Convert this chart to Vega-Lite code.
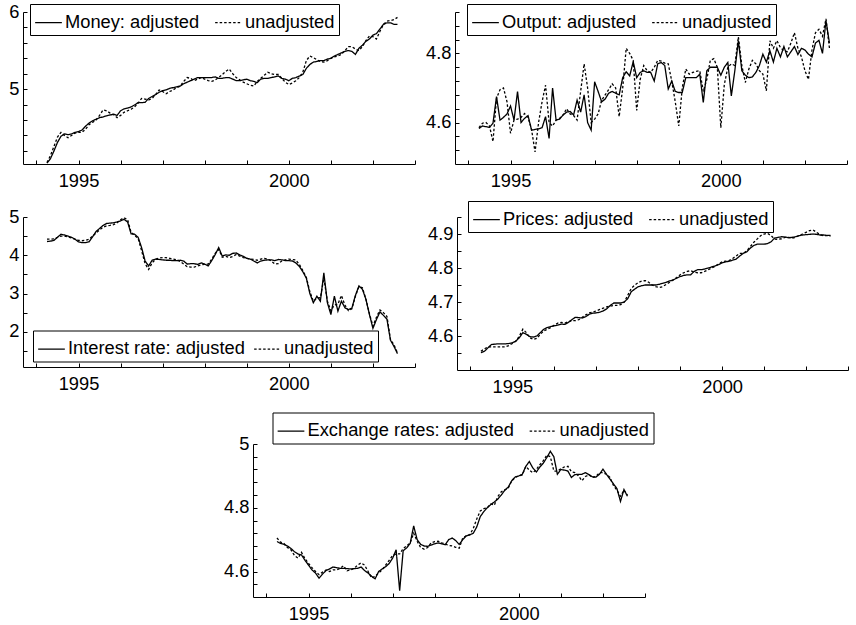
{
  "$schema": "https://vega.github.io/schema/vega-lite/v6.json",
  "padding": {"left": 8, "top": 2, "right": 2, "bottom": 2},
  "config": {
    "view": {"stroke": null},
    "font": "Liberation Sans",
    "axis": {"grid": false, "domainColor": "black", "domainWidth": 1, "tickColor": "black", "tickWidth": 1, "tickSize": -4, "labelColor": "black", "labelFont": "Liberation Sans", "labelFontSize": 18.3, "labelFlush": false, "labelOverlap": false, "labelBound": false},
    "axisX": {"labelPadding": 12.5},
    "axisY": {"labelPadding": 8},
    "legend": {"strokeColor": "black", "strokeWidth": 1, "fillColor": "white", "padding": 4, "labelFont": "Liberation Sans", "labelFontSize": 18.3, "labelColor": "black", "labelOffset": 2, "labelLimit": 0, "symbolType": "stroke", "symbolStrokeColor": "black", "symbolStrokeWidth": 1.2, "symbolSize": 713, "columnPadding": 12, "direction": "horizontal", "title": null},
    "line": {"color": "black", "strokeWidth": 1.3, "clip": true}
  },
  "data": {"values": [
    {"t":1994.25,"Ma":4.04,"Mu":4.05,"Oa":4.583,"Ou":4.585,"Ia":4.36,"Iu":4.42,"Pa":4.551,"Pu":4.555,"Ea":4.694,"Eu":4.705},
    {"t":1994.333,"Ma":4.10,"Mu":4.14,"Oa":4.59,"Ou":4.598,"Ia":4.37,"Iu":4.42,"Pa":4.555,"Pu":4.562,"Ea":4.688,"Eu":4.692},
    {"t":1994.417,"Ma":4.20,"Mu":4.26,"Oa":4.588,"Ou":4.60,"Ia":4.39,"Iu":4.43,"Pa":4.565,"Pu":4.568,"Ea":4.685,"Eu":4.688},
    {"t":1994.5,"Ma":4.31,"Mu":4.38,"Oa":4.586,"Ou":4.59,"Ia":4.47,"Iu":4.47,"Pa":4.575,"Pu":4.568,"Ea":4.68,"Eu":4.675},
    {"t":1994.583,"Ma":4.39,"Mu":4.44,"Oa":4.598,"Ou":4.545,"Ia":4.55,"Iu":4.50,"Pa":4.576,"Pu":4.568,"Ea":4.672,"Eu":4.668},
    {"t":1994.667,"Ma":4.42,"Mu":4.40,"Oa":4.675,"Ou":4.67,"Ia":4.53,"Iu":4.50,"Pa":4.577,"Pu":4.568,"Ea":4.662,"Eu":4.65},
    {"t":1994.75,"Ma":4.41,"Mu":4.37,"Oa":4.607,"Ou":4.695,"Ia":4.50,"Iu":4.48,"Pa":4.577,"Pu":4.568,"Ea":4.655,"Eu":4.642},
    {"t":1994.833,"Ma":4.42,"Mu":4.40,"Oa":4.615,"Ou":4.70,"Ia":4.47,"Iu":4.45,"Pa":4.577,"Pu":4.568,"Ea":4.652,"Eu":4.66},
    {"t":1994.917,"Ma":4.44,"Mu":4.43,"Oa":4.625,"Ou":4.66,"Ia":4.42,"Iu":4.42,"Pa":4.578,"Pu":4.572,"Ea":4.635,"Eu":4.64},
    {"t":1995.0,"Ma":4.45,"Mu":4.44,"Oa":4.648,"Ou":4.569,"Ia":4.35,"Iu":4.39,"Pa":4.58,"Pu":4.578,"Ea":4.62,"Eu":4.625},
    {"t":1995.083,"Ma":4.47,"Mu":4.44,"Oa":4.607,"Ou":4.607,"Ia":4.33,"Iu":4.38,"Pa":4.585,"Pu":4.585,"Ea":4.605,"Eu":4.612},
    {"t":1995.167,"Ma":4.52,"Mu":4.48,"Oa":4.69,"Ou":4.61,"Ia":4.33,"Iu":4.39,"Pa":4.595,"Pu":4.60,"Ea":4.595,"Eu":4.60},
    {"t":1995.25,"Ma":4.56,"Mu":4.54,"Oa":4.60,"Ou":4.615,"Ia":4.35,"Iu":4.42,"Pa":4.61,"Pu":4.62,"Ea":4.579,"Eu":4.59},
    {"t":1995.333,"Ma":4.59,"Mu":4.57,"Oa":4.612,"Ou":4.626,"Ia":4.48,"Iu":4.50,"Pa":4.605,"Pu":4.61,"Ea":4.592,"Eu":4.598},
    {"t":1995.417,"Ma":4.61,"Mu":4.60,"Oa":4.62,"Ou":4.615,"Ia":4.62,"Iu":4.58,"Pa":4.598,"Pu":4.595,"Ea":4.603,"Eu":4.605},
    {"t":1995.5,"Ma":4.63,"Mu":4.66,"Oa":4.578,"Ou":4.58,"Ia":4.70,"Iu":4.66,"Pa":4.597,"Pu":4.59,"Ea":4.608,"Eu":4.60},
    {"t":1995.583,"Ma":4.64,"Mu":4.73,"Oa":4.58,"Ou":4.515,"Ia":4.78,"Iu":4.73,"Pa":4.60,"Pu":4.593,"Ea":4.614,"Eu":4.605},
    {"t":1995.667,"Ma":4.655,"Mu":4.72,"Oa":4.582,"Ou":4.60,"Ia":4.83,"Iu":4.77,"Pa":4.61,"Pu":4.605,"Ea":4.612,"Eu":4.605},
    {"t":1995.75,"Ma":4.665,"Mu":4.69,"Oa":4.585,"Ou":4.66,"Ia":4.84,"Iu":4.78,"Pa":4.62,"Pu":4.615,"Ea":4.61,"Eu":4.61},
    {"t":1995.833,"Ma":4.675,"Mu":4.67,"Oa":4.617,"Ou":4.708,"Ia":4.85,"Iu":4.80,"Pa":4.625,"Pu":4.62,"Ea":4.61,"Eu":4.618},
    {"t":1995.917,"Ma":4.66,"Mu":4.63,"Oa":4.554,"Ou":4.60,"Ia":4.87,"Iu":4.85,"Pa":4.628,"Pu":4.625,"Ea":4.609,"Eu":4.602},
    {"t":1996.0,"Ma":4.72,"Mu":4.66,"Oa":4.70,"Ou":4.59,"Ia":4.90,"Iu":4.93,"Pa":4.63,"Pu":4.632,"Ea":4.608,"Eu":4.605},
    {"t":1996.083,"Ma":4.745,"Mu":4.70,"Oa":4.607,"Ou":4.607,"Ia":4.94,"Iu":4.98,"Pa":4.632,"Pu":4.638,"Ea":4.609,"Eu":4.61},
    {"t":1996.167,"Ma":4.755,"Mu":4.72,"Oa":4.61,"Ou":4.612,"Ia":4.87,"Iu":4.93,"Pa":4.635,"Pu":4.64,"Ea":4.61,"Eu":4.62},
    {"t":1996.25,"Ma":4.77,"Mu":4.74,"Oa":4.622,"Ou":4.622,"Ia":4.56,"Iu":4.60,"Pa":4.634,"Pu":4.638,"Ea":4.614,"Eu":4.627},
    {"t":1996.333,"Ma":4.795,"Mu":4.77,"Oa":4.63,"Ou":4.64,"Ia":4.55,"Iu":4.52,"Pa":4.64,"Pu":4.642,"Ea":4.603,"Eu":4.62},
    {"t":1996.417,"Ma":4.825,"Mu":4.82,"Oa":4.632,"Ou":4.625,"Ia":4.47,"Iu":4.44,"Pa":4.648,"Pu":4.645,"Ea":4.595,"Eu":4.60},
    {"t":1996.5,"Ma":4.825,"Mu":4.88,"Oa":4.622,"Ou":4.62,"Ia":4.20,"Iu":4.12,"Pa":4.655,"Pu":4.645,"Ea":4.585,"Eu":4.58},
    {"t":1996.583,"Ma":4.83,"Mu":4.87,"Oa":4.665,"Ou":4.607,"Ia":3.85,"Iu":3.78,"Pa":4.654,"Pu":4.648,"Ea":4.577,"Eu":4.585},
    {"t":1996.667,"Ma":4.88,"Mu":4.86,"Oa":4.63,"Ou":4.69,"Ia":3.72,"Iu":3.63,"Pa":4.653,"Pu":4.655,"Ea":4.60,"Eu":4.595},
    {"t":1996.75,"Ma":4.905,"Mu":4.88,"Oa":4.68,"Ou":4.77,"Ia":3.87,"Iu":3.80,"Pa":4.657,"Pu":4.662,"Ea":4.608,"Eu":4.605},
    {"t":1996.833,"Ma":4.93,"Mu":4.93,"Oa":4.60,"Ou":4.70,"Ia":3.90,"Iu":3.90,"Pa":4.664,"Pu":4.668,"Ea":4.615,"Eu":4.62},
    {"t":1996.917,"Ma":4.96,"Mu":4.99,"Oa":4.578,"Ou":4.60,"Ia":3.89,"Iu":3.93,"Pa":4.667,"Pu":4.67,"Ea":4.625,"Eu":4.635},
    {"t":1997.0,"Ma":4.98,"Mu":4.97,"Oa":4.718,"Ou":4.61,"Ia":3.88,"Iu":3.94,"Pa":4.668,"Pu":4.674,"Ea":4.642,"Eu":4.65},
    {"t":1997.083,"Ma":4.99,"Mu":4.94,"Oa":4.69,"Ou":4.625,"Ia":3.87,"Iu":3.94,"Pa":4.67,"Pu":4.678,"Ea":4.668,"Eu":4.655},
    {"t":1997.167,"Ma":5.01,"Mu":4.97,"Oa":4.66,"Ou":4.665,"Ia":3.87,"Iu":3.92,"Pa":4.674,"Pu":4.682,"Ea":4.54,"Eu":4.655},
    {"t":1997.25,"Ma":5.02,"Mu":4.99,"Oa":4.668,"Ou":4.68,"Ia":3.86,"Iu":3.90,"Pa":4.68,"Pu":4.686,"Ea":4.665,"Eu":4.672},
    {"t":1997.333,"Ma":5.03,"Mu":5.02,"Oa":4.685,"Ou":4.695,"Ia":3.86,"Iu":3.88,"Pa":4.69,"Pu":4.688,"Ea":4.674,"Eu":4.68},
    {"t":1997.417,"Ma":5.04,"Mu":5.04,"Oa":4.69,"Ou":4.712,"Ia":3.87,"Iu":3.84,"Pa":4.697,"Pu":4.69,"Ea":4.688,"Eu":4.69},
    {"t":1997.5,"Ma":5.07,"Mu":5.10,"Oa":4.685,"Ou":4.70,"Ia":3.85,"Iu":3.77,"Pa":4.697,"Pu":4.69,"Ea":4.743,"Eu":4.72},
    {"t":1997.583,"Ma":5.09,"Mu":5.15,"Oa":4.68,"Ou":4.617,"Ia":3.77,"Iu":3.70,"Pa":4.697,"Pu":4.692,"Ea":4.70,"Eu":4.695},
    {"t":1997.667,"Ma":5.11,"Mu":5.14,"Oa":4.73,"Ou":4.70,"Ia":3.78,"Iu":3.69,"Pa":4.70,"Pu":4.70,"Ea":4.685,"Eu":4.675},
    {"t":1997.75,"Ma":5.13,"Mu":5.11,"Oa":4.747,"Ou":4.815,"Ia":3.78,"Iu":3.69,"Pa":4.71,"Pu":4.72,"Ea":4.68,"Eu":4.67},
    {"t":1997.833,"Ma":5.15,"Mu":5.13,"Oa":4.735,"Ou":4.80,"Ia":3.76,"Iu":3.72,"Pa":4.73,"Pu":4.74,"Ea":4.679,"Eu":4.675},
    {"t":1997.917,"Ma":5.15,"Mu":5.15,"Oa":4.776,"Ou":4.78,"Ia":3.80,"Iu":3.75,"Pa":4.738,"Pu":4.75,"Ea":4.683,"Eu":4.69},
    {"t":1998.0,"Ma":5.15,"Mu":5.13,"Oa":4.73,"Ou":4.635,"Ia":3.77,"Iu":3.76,"Pa":4.745,"Pu":4.757,"Ea":4.687,"Eu":4.694},
    {"t":1998.083,"Ma":5.15,"Mu":5.11,"Oa":4.745,"Ou":4.725,"Ia":3.72,"Iu":3.77,"Pa":4.748,"Pu":4.762,"Ea":4.69,"Eu":4.695},
    {"t":1998.167,"Ma":5.15,"Mu":5.10,"Oa":4.75,"Ou":4.765,"Ia":3.86,"Iu":3.90,"Pa":4.75,"Pu":4.763,"Ea":4.687,"Eu":4.69},
    {"t":1998.25,"Ma":5.16,"Mu":5.12,"Oa":4.745,"Ou":4.75,"Ia":4.02,"Iu":4.05,"Pa":4.75,"Pu":4.758,"Ea":4.684,"Eu":4.686},
    {"t":1998.333,"Ma":5.14,"Mu":5.15,"Oa":4.745,"Ou":4.745,"Ia":4.20,"Iu":4.15,"Pa":4.75,"Pu":4.75,"Ea":4.70,"Eu":4.682},
    {"t":1998.417,"Ma":5.14,"Mu":5.19,"Oa":4.72,"Ou":4.76,"Ia":3.98,"Iu":3.95,"Pa":4.75,"Pu":4.745,"Ea":4.705,"Eu":4.68},
    {"t":1998.5,"Ma":5.15,"Mu":5.23,"Oa":4.77,"Ou":4.78,"Ia":4.01,"Iu":3.97,"Pa":4.752,"Pu":4.743,"Ea":4.697,"Eu":4.676},
    {"t":1998.583,"Ma":5.15,"Mu":5.26,"Oa":4.774,"Ou":4.778,"Ia":4.00,"Iu":3.94,"Pa":4.755,"Pu":4.745,"Ea":4.685,"Eu":4.673},
    {"t":1998.667,"Ma":5.13,"Mu":5.20,"Oa":4.765,"Ou":4.772,"Ia":4.05,"Iu":3.97,"Pa":4.758,"Pu":4.752,"Ea":4.70,"Eu":4.705},
    {"t":1998.75,"Ma":5.11,"Mu":5.15,"Oa":4.697,"Ou":4.77,"Ia":4.06,"Iu":4.02,"Pa":4.762,"Pu":4.758,"Ea":4.712,"Eu":4.712},
    {"t":1998.833,"Ma":5.11,"Mu":5.12,"Oa":4.72,"Ou":4.72,"Ia":4.01,"Iu":3.98,"Pa":4.765,"Pu":4.765,"Ea":4.715,"Eu":4.715},
    {"t":1998.917,"Ma":5.12,"Mu":5.09,"Oa":4.69,"Ou":4.66,"Ia":3.97,"Iu":3.94,"Pa":4.77,"Pu":4.772,"Ea":4.72,"Eu":4.735},
    {"t":1999.0,"Ma":5.13,"Mu":5.07,"Oa":4.687,"Ou":4.59,"Ia":3.92,"Iu":3.92,"Pa":4.775,"Pu":4.78,"Ea":4.74,"Eu":4.765},
    {"t":1999.083,"Ma":5.11,"Mu":5.05,"Oa":4.687,"Ou":4.70,"Ia":3.90,"Iu":3.90,"Pa":4.778,"Pu":4.786,"Ea":4.772,"Eu":4.79},
    {"t":1999.167,"Ma":5.10,"Mu":5.04,"Oa":4.73,"Ou":4.755,"Ia":3.85,"Iu":3.89,"Pa":4.78,"Pu":4.79,"Ea":4.788,"Eu":4.797},
    {"t":1999.25,"Ma":5.085,"Mu":5.10,"Oa":4.73,"Ou":4.74,"Ia":3.80,"Iu":3.87,"Pa":4.78,"Pu":4.792,"Ea":4.80,"Eu":4.80},
    {"t":1999.333,"Ma":5.13,"Mu":5.14,"Oa":4.73,"Ou":4.745,"Ia":3.85,"Iu":3.90,"Pa":4.79,"Pu":4.788,"Ea":4.81,"Eu":4.812},
    {"t":1999.417,"Ma":5.14,"Mu":5.18,"Oa":4.73,"Ou":4.748,"Ia":3.87,"Iu":3.92,"Pa":4.795,"Pu":4.786,"Ea":4.818,"Eu":4.808},
    {"t":1999.5,"Ma":5.14,"Mu":5.22,"Oa":4.74,"Ou":4.75,"Ia":3.88,"Iu":3.90,"Pa":4.795,"Pu":4.786,"Ea":4.827,"Eu":4.835},
    {"t":1999.583,"Ma":5.15,"Mu":5.20,"Oa":4.658,"Ou":4.69,"Ia":3.88,"Iu":3.85,"Pa":4.797,"Pu":4.79,"Ea":4.84,"Eu":4.85},
    {"t":1999.667,"Ma":5.16,"Mu":5.19,"Oa":4.75,"Ou":4.725,"Ia":3.86,"Iu":3.77,"Pa":4.80,"Pu":4.795,"Ea":4.855,"Eu":4.856},
    {"t":1999.75,"Ma":5.17,"Mu":5.19,"Oa":4.76,"Ou":4.78,"Ia":3.89,"Iu":3.78,"Pa":4.803,"Pu":4.80,"Ea":4.865,"Eu":4.862},
    {"t":1999.833,"Ma":5.14,"Mu":5.14,"Oa":4.76,"Ou":4.785,"Ia":3.88,"Iu":3.85,"Pa":4.806,"Pu":4.805,"Ea":4.885,"Eu":4.885},
    {"t":1999.917,"Ma":5.13,"Mu":5.09,"Oa":4.76,"Ou":4.76,"Ia":3.86,"Iu":3.88,"Pa":4.81,"Pu":4.812,"Ea":4.897,"Eu":4.895},
    {"t":2000.0,"Ma":5.11,"Mu":5.06,"Oa":4.737,"Ou":4.585,"Ia":3.86,"Iu":3.90,"Pa":4.815,"Pu":4.818,"Ea":4.90,"Eu":4.90},
    {"t":2000.083,"Ma":5.14,"Mu":5.08,"Oa":4.76,"Ou":4.71,"Ia":3.85,"Iu":3.89,"Pa":4.818,"Pu":4.82,"Ea":4.905,"Eu":4.903},
    {"t":2000.167,"Ma":5.15,"Mu":5.11,"Oa":4.774,"Ou":4.76,"Ia":3.80,"Iu":3.88,"Pa":4.82,"Pu":4.822,"Ea":4.93,"Eu":4.93},
    {"t":2000.25,"Ma":5.17,"Mu":5.15,"Oa":4.677,"Ou":4.77,"Ia":3.71,"Iu":3.76,"Pa":4.823,"Pu":4.828,"Ea":4.945,"Eu":4.918},
    {"t":2000.333,"Ma":5.19,"Mu":5.22,"Oa":4.75,"Ou":4.765,"Ia":3.57,"Iu":3.60,"Pa":4.826,"Pu":4.835,"Ea":4.925,"Eu":4.91},
    {"t":2000.417,"Ma":5.27,"Mu":5.37,"Oa":4.837,"Ou":4.848,"Ia":3.40,"Iu":3.42,"Pa":4.835,"Pu":4.843,"Ea":4.912,"Eu":4.92},
    {"t":2000.5,"Ma":5.32,"Mu":5.43,"Oa":4.75,"Ou":4.765,"Ia":3.00,"Iu":3.05,"Pa":4.843,"Pu":4.843,"Ea":4.928,"Eu":4.935},
    {"t":2000.583,"Ma":5.35,"Mu":5.41,"Oa":4.737,"Ou":4.716,"Ia":2.76,"Iu":2.80,"Pa":4.847,"Pu":4.85,"Ea":4.94,"Eu":4.948},
    {"t":2000.667,"Ma":5.36,"Mu":5.38,"Oa":4.73,"Ou":4.755,"Ia":2.93,"Iu":2.88,"Pa":4.858,"Pu":4.862,"Ea":4.958,"Eu":4.965},
    {"t":2000.75,"Ma":5.37,"Mu":5.36,"Oa":4.732,"Ou":4.78,"Ia":2.80,"Iu":2.89,"Pa":4.866,"Pu":4.875,"Ea":4.977,"Eu":4.96},
    {"t":2000.833,"Ma":5.37,"Mu":5.35,"Oa":4.745,"Ou":4.77,"Ia":3.54,"Iu":3.40,"Pa":4.87,"Pu":4.885,"Ea":4.96,"Eu":4.915},
    {"t":2000.917,"Ma":5.39,"Mu":5.37,"Oa":4.765,"Ou":4.75,"Ia":2.76,"Iu":2.80,"Pa":4.87,"Pu":4.895,"Ea":4.905,"Eu":4.915},
    {"t":2001.0,"Ma":5.40,"Mu":5.40,"Oa":4.798,"Ou":4.74,"Ia":2.45,"Iu":2.55,"Pa":4.87,"Pu":4.90,"Ea":4.92,"Eu":4.922},
    {"t":2001.083,"Ma":5.43,"Mu":5.42,"Oa":4.775,"Ou":4.692,"Ia":2.93,"Iu":2.70,"Pa":4.872,"Pu":4.902,"Ea":4.918,"Eu":4.928},
    {"t":2001.167,"Ma":5.45,"Mu":5.43,"Oa":4.808,"Ou":4.837,"Ia":2.54,"Iu":2.72,"Pa":4.877,"Pu":4.895,"Ea":4.915,"Eu":4.93},
    {"t":2001.25,"Ma":5.47,"Mu":5.45,"Oa":4.775,"Ou":4.815,"Ia":2.80,"Iu":2.95,"Pa":4.888,"Pu":4.885,"Ea":4.895,"Eu":4.913},
    {"t":2001.333,"Ma":5.49,"Mu":5.50,"Oa":4.815,"Ou":4.837,"Ia":2.63,"Iu":2.70,"Pa":4.89,"Pu":4.884,"Ea":4.904,"Eu":4.91},
    {"t":2001.417,"Ma":5.50,"Mu":5.55,"Oa":4.79,"Ou":4.817,"Ia":2.58,"Iu":2.55,"Pa":4.892,"Pu":4.886,"Ea":4.905,"Eu":4.90},
    {"t":2001.5,"Ma":5.49,"Mu":5.55,"Oa":4.82,"Ou":4.808,"Ia":2.62,"Iu":2.60,"Pa":4.891,"Pu":4.89,"Ea":4.905,"Eu":4.885},
    {"t":2001.583,"Ma":5.45,"Mu":5.52,"Oa":4.79,"Ou":4.805,"Ia":2.95,"Iu":2.93,"Pa":4.889,"Pu":4.89,"Ea":4.91,"Eu":4.898},
    {"t":2001.667,"Ma":5.53,"Mu":5.50,"Oa":4.805,"Ou":4.83,"Ia":3.20,"Iu":3.18,"Pa":4.89,"Pu":4.888,"Ea":4.904,"Eu":4.903},
    {"t":2001.75,"Ma":5.57,"Mu":5.55,"Oa":4.82,"Ou":4.86,"Ia":3.11,"Iu":3.15,"Pa":4.892,"Pu":4.89,"Ea":4.897,"Eu":4.895},
    {"t":2001.833,"Ma":5.62,"Mu":5.63,"Oa":4.797,"Ou":4.815,"Ia":2.85,"Iu":2.85,"Pa":4.895,"Pu":4.896,"Ea":4.896,"Eu":4.898},
    {"t":2001.917,"Ma":5.65,"Mu":5.69,"Oa":4.815,"Ou":4.79,"Ia":2.45,"Iu":2.47,"Pa":4.897,"Pu":4.90,"Ea":4.905,"Eu":4.91},
    {"t":2002.0,"Ma":5.70,"Mu":5.68,"Oa":4.81,"Ou":4.75,"Ia":2.09,"Iu":2.15,"Pa":4.898,"Pu":4.905,"Ea":4.921,"Eu":4.91},
    {"t":2002.083,"Ma":5.72,"Mu":5.65,"Oa":4.798,"Ou":4.725,"Ia":2.32,"Iu":2.38,"Pa":4.899,"Pu":4.91,"Ea":4.905,"Eu":4.905},
    {"t":2002.167,"Ma":5.78,"Mu":5.75,"Oa":4.79,"Ou":4.81,"Ia":2.52,"Iu":2.57,"Pa":4.90,"Pu":4.912,"Ea":4.89,"Eu":4.895},
    {"t":2002.25,"Ma":5.84,"Mu":5.84,"Oa":4.83,"Ou":4.86,"Ia":2.43,"Iu":2.50,"Pa":4.899,"Pu":4.905,"Ea":4.875,"Eu":4.87},
    {"t":2002.333,"Ma":5.86,"Mu":5.88,"Oa":4.838,"Ou":4.87,"Ia":2.33,"Iu":2.40,"Pa":4.897,"Pu":4.898,"Ea":4.86,"Eu":4.855},
    {"t":2002.417,"Ma":5.86,"Mu":5.89,"Oa":4.80,"Ou":4.85,"Ia":1.78,"Iu":1.80,"Pa":4.897,"Pu":4.895,"Ea":4.82,"Eu":4.836},
    {"t":2002.5,"Ma":5.84,"Mu":5.90,"Oa":4.895,"Ou":4.90,"Ia":1.62,"Iu":1.66,"Pa":4.896,"Pu":4.895,"Ea":4.857,"Eu":4.855},
    {"t":2002.583,"Ma":5.84,"Mu":5.93,"Oa":4.83,"Ou":4.815,"Ia":1.43,"Iu":1.45,"Pa":4.896,"Pu":4.894,"Ea":4.836,"Eu":4.84}
  ]},
  "spacing": 16,
  "resolve": {"scale": {"strokeDash": "independent"}, "legend": {"strokeDash": "independent"}},
  "vconcat": [
    {
      "spacing": 10,
      "resolve": {"scale": {"strokeDash": "independent"}, "legend": {"strokeDash": "independent"}},
      "vconcat": [
        {
          "spacing": 9,
          "resolve": {"scale": {"strokeDash": "independent"}, "legend": {"strokeDash": "independent"}},
          "hconcat": [
            {
              "width": 392, "height": 152,
              "transform": [{"fold": ["Ma", "Mu"], "as": ["s", "v"]}],
              "mark": {"type": "line"},
              "encoding": {
                "x": {"field": "t", "type": "quantitative", "title": null, "scale": {"domain": [1993.68, 2003], "nice": false, "zero": false}, "axis": {"values": [1994,1995,1996,1997,1998,1999,2000,2001,2002,2003], "labelExpr": "datum.value==1995||datum.value==2000 ? ''+datum.value : ''"}},
                "y": {"field": "v", "type": "quantitative", "title": null, "scale": {"domain": [4.03, 6], "nice": false, "zero": false}, "axis": {"values": [4.2,4.4,4.6,4.8,5,5.2,5.4,5.6,5.8,6], "labelExpr": "indexof([5,6],datum.value)>=0 ? format(datum.value,'~g') : ''"}},
                "strokeDash": {"field": "s", "type": "nominal", "scale": {"domain": ["Ma", "Mu"], "range": [[1, 0], [2.5, 2]]}, "legend": {"orient": "none", "legendX": 7, "legendY": -8, "labelExpr": "datum.label=='Ma' ? 'Money: adjusted' : '\u00a0\u00a0unadjusted\u2009'"}}
              }
            },
            {
              "width": 392, "height": 152,
              "transform": [{"fold": ["Oa", "Ou"], "as": ["s", "v"]}],
              "mark": {"type": "line"},
              "encoding": {
                "x": {"field": "t", "type": "quantitative", "title": null, "scale": {"domain": [1993.68, 2003], "nice": false, "zero": false}, "axis": {"values": [1994,1995,1996,1997,1998,1999,2000,2001,2002,2003], "labelExpr": "datum.value==1995||datum.value==2000 ? ''+datum.value : ''"}},
                "y": {"field": "v", "type": "quantitative", "title": null, "scale": {"domain": [4.48, 4.92], "nice": false, "zero": false}, "axis": {"values": [4.52,4.56,4.6,4.64,4.68,4.72,4.76,4.8,4.84,4.88,4.92], "labelExpr": "indexof([4.6,4.8],datum.value)>=0 ? format(datum.value,'~g') : ''"}},
                "strokeDash": {"field": "s", "type": "nominal", "scale": {"domain": ["Oa", "Ou"], "range": [[1, 0], [2.5, 2]]}, "legend": {"orient": "none", "legendX": 12, "legendY": -8, "labelExpr": "datum.label=='Oa' ? 'Output: adjusted' : '\u00a0\u00a0unadjusted\u2009'"}}
              }
            }
          ]
        },
        {
          "spacing": 11,
          "resolve": {"scale": {"strokeDash": "independent"}, "legend": {"strokeDash": "independent"}},
          "hconcat": [
            {
              "width": 392, "height": 150,
              "transform": [{"fold": ["Ia", "Iu"], "as": ["s", "v"]}],
              "mark": {"type": "line"},
              "encoding": {
                "x": {"field": "t", "type": "quantitative", "title": null, "scale": {"domain": [1993.68, 2003], "nice": false, "zero": false}, "axis": {"values": [1994,1995,1996,1997,1998,1999,2000,2001,2002,2003], "labelExpr": "datum.value==1995||datum.value==2000 ? ''+datum.value : ''"}},
                "y": {"field": "v", "type": "quantitative", "title": null, "scale": {"domain": [1.08, 5], "nice": false, "zero": false}, "axis": {"values": [1.5,2,2.5,3,3.5,4,4.5,5], "labelExpr": "indexof([2,3,4,5],datum.value)>=0 ? format(datum.value,'~g') : ''"}},
                "strokeDash": {"field": "s", "type": "nominal", "scale": {"domain": ["Ia", "Iu"], "range": [[1, 0], [2.5, 2]]}, "legend": {"orient": "none", "legendX": 10, "legendY": 113.5, "columnPadding": 6, "labelExpr": "datum.label=='Ia' ? 'Interest rate: adjusted' : '\u00a0\u2009unadjusted'"}}
              }
            },
            {
              "width": 391, "height": 153,
              "transform": [{"fold": ["Pa", "Pu"], "as": ["s", "v"]}],
              "mark": {"type": "line"},
              "encoding": {
                "x": {"field": "t", "type": "quantitative", "title": null, "scale": {"domain": [1993.68, 2003], "nice": false, "zero": false}, "axis": {"values": [1994,1995,1996,1997,1998,1999,2000,2001,2002,2003], "labelExpr": "datum.value==1995||datum.value==2000 ? ''+datum.value : ''"}},
                "y": {"field": "v", "type": "quantitative", "title": null, "scale": {"domain": [4.5, 4.95], "nice": false, "zero": false}, "axis": {"values": [4.55,4.6,4.65,4.7,4.75,4.8,4.85,4.9,4.95], "labelExpr": "indexof([4.6,4.7,4.8,4.9],datum.value)>=0 ? format(datum.value,'~g') : ''"}},
                "strokeDash": {"field": "s", "type": "nominal", "scale": {"domain": ["Pa", "Pu"], "range": [[1, 0], [2.5, 2]]}, "legend": {"orient": "none", "legendX": 11, "legendY": -16, "labelExpr": "datum.label=='Pa' ? 'Prices: adjusted' : '\u00a0\u00a0unadjusted\u2009'"}}
              }
            }
          ]
        }
      ]
    },
    {
      "spacing": 11,
      "resolve": {"scale": {"strokeDash": "independent"}, "legend": {"strokeDash": "independent"}},
      "hconcat": [
        {
          "width": 189, "height": 153,
          "data": {"values": []},
          "view": {"fill": "white", "stroke": null},
          "mark": "point"
        },
        {
          "width": 392, "height": 153,
          "transform": [{"fold": ["Ea", "Eu"], "as": ["s", "v"]}],
          "mark": {"type": "line"},
          "encoding": {
            "x": {"field": "t", "type": "quantitative", "title": null, "scale": {"domain": [1993.68, 2003], "nice": false, "zero": false}, "axis": {"values": [1994,1995,1996,1997,1998,1999,2000,2001,2002,2003], "labelExpr": "datum.value==1995||datum.value==2000 ? ''+datum.value : ''"}},
            "y": {"field": "v", "type": "quantitative", "title": null, "scale": {"domain": [4.52, 5], "nice": false, "zero": false}, "axis": {"values": [4.56,4.6,4.64,4.68,4.72,4.76,4.8,4.84,4.88,4.92,4.96,5], "labelExpr": "indexof([4.6,4.8,5],datum.value)>=0 ? format(datum.value,'~g') : ''"}},
            "strokeDash": {"field": "s", "type": "nominal", "scale": {"domain": ["Ea", "Eu"], "range": [[1, 0], [2.5, 2]]}, "legend": {"orient": "none", "legendX": 19.5, "legendY": -31.5, "labelExpr": "datum.label=='Ea' ? 'Exchange rates: adjusted' : '\u00a0\u00a0unadjusted\u2009'"}}
          }
        }
      ]
    }
  ]
}
